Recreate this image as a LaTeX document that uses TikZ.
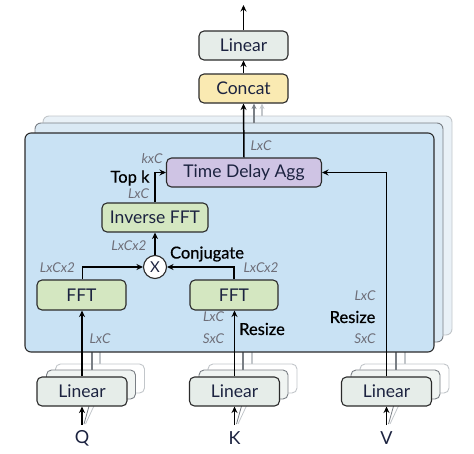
\documentclass[tikz,border=0pt]{standalone}
\usepackage{fontspec}
\setmainfont{Lato}
\newfontfamily\labfont{Lato}[FakeBold=0.6]
\usetikzlibrary{arrows.meta}
\definecolor{boxline}{HTML}{2B2B2B}
\definecolor{txt}{HTML}{1C2340}
\definecolor{dimc}{HTML}{6E6E78}
\definecolor{linfill}{HTML}{E6EDE9}
\definecolor{concatfill}{HTML}{FAEAB2}
\definecolor{panelfill}{HTML}{C9E2F4}
\definecolor{panelfillb}{HTML}{DAE9F4}
\definecolor{panelfillc}{HTML}{E9F1F7}
\definecolor{tdafill}{HTML}{CFC4E4}
\definecolor{fftfill}{HTML}{D4E7C1}
\definecolor{greyA}{HTML}{7A7F85}
\definecolor{greyB}{HTML}{C2C6CA}
\begin{document}
\begin{tikzpicture}[x=1pt,y=-1pt,
  box/.style={draw=boxline, line width=1.1pt, rounded corners=5pt, minimum width=89pt, minimum height=29pt, inner sep=0pt, font=\fontsize{17.5}{17.5}\selectfont, text=txt},
  ghostA/.style={draw=greyA, line width=0.9pt, rounded corners=5pt, fill=linfill!60, minimum width=89pt, minimum height=29pt, inner sep=0pt},
  ghostB/.style={draw=greyB, line width=0.9pt, rounded corners=5pt, fill=white, minimum width=89pt, minimum height=29pt, inner sep=0pt},
  dimlab/.style={font=\fontsize{13.5}{13.5}\selectfont\itshape, text=dimc, inner sep=0pt},
  lab/.style={font=\labfont\fontsize{16.5}{16.5}\selectfont, text=black, inner sep=0pt},
  inlab/.style={font=\fontsize{18}{18}\selectfont, text=txt, inner sep=0pt},
  arr/.style={line width=1.5pt, draw=black, -{Stealth[length=6.5pt,width=6pt]}},
  arrA/.style={line width=1.2pt, draw=greyA, -{Stealth[length=5.5pt,width=5pt]}},
  arrB/.style={line width=1.1pt, draw=greyB, -{Stealth[length=5.5pt,width=5pt]}},
  lineA/.style={line width=1.2pt, draw=greyA},
  lineB/.style={line width=1.1pt, draw=greyB},
]
\useasboundingbox (0,0) rectangle (474,453);

% back panels
\draw[draw=greyB, fill=panelfillc, line width=0.9pt, rounded corners=6pt] (43,116) rectangle (452,335);
\draw[draw=greyA, fill=panelfillb, line width=0.9pt, rounded corners=6pt] (35,123) rectangle (443,342);

% top boxes
\node[box, fill=linfill] (lintop) at (243.5,45.5) {Linear};
\node[box, fill=concatfill] (concat) at (243.5,88.5) {Concat};
\coordinate (out) at (243.5,5);

% ghost arrows into concat
\coordinate (pB) at (254,123);
\coordinate (pC) at (262,116);
\draw[arrA] (pB) -- (pB |- concat.south);
\draw[arrB] (pC) -- (pC |- concat.south);

% bottom linear stacks (ghosts)
\foreach \n/\x in {Q/82,K/234.5,V/386.5}{
  \node[ghostB] (g2\n) at (\x+18,378.5) {};
  \node[ghostA] (g1\n) at (\x+9,384.5) {};
  \coordinate (a\n) at (\x+2,424);
  \coordinate (b\n) at (\x+3.5,424);
  \draw[lineA, line width=0.8pt] (a\n) -- (\x+9,399);
  \draw[lineB, line width=0.8pt] (b\n) -- (\x+18,393);
}
% ghost lines from ghost linear boxes to back panels
\foreach \n/\x in {Q/92,K/243,V/396}{
  \draw[lineA] (\x,342) -- (\x,370);
}
\foreach \n/\x in {Q/100,K/252,V/405}{
  \draw[lineB] (\x,335) -- (\x,364);
}

% front panel
\draw[draw=boxline, fill=panelfill, line width=1.1pt, rounded corners=6pt] (25,133) rectangle (434,352);

% inner boxes
\node[box, fill=tdafill, minimum width=155pt] (tda) at (244,172.5) {Time Delay Agg};
\node[box, fill=fftfill, minimum width=106pt] (ifft) at (155,217.5) {Inverse FFT};
\node[draw=boxline, line width=1.1pt, fill=white, circle, minimum size=23pt, inner sep=0pt, font=\fontsize{15}{15}\selectfont, text=txt] (mul) at (155,267) {X};
\node[box, fill=fftfill, minimum height=30pt] (fftL) at (81.5,295) {FFT};
\node[box, fill=fftfill, minimum width=88pt, minimum height=30pt] (fftR) at (234,295) {FFT};

% front linear boxes
\node[box, fill=linfill, minimum width=90pt] (linQ) at (82,391.5) {Linear};
\node[box, fill=linfill, minimum width=90pt] (linK) at (234.5,391.5) {Linear};
\node[box, fill=linfill, minimum width=90pt] (linV) at (386.5,391.5) {Linear};

% inputs
\node[inlab] (Q) at (82,438) {Q};
\node[inlab] (K) at (234.5,438) {K};
\node[inlab] (V) at (386.5,438) {V};
\coordinate (qin) at (82,425);
\coordinate (kin) at (234.5,425);
\coordinate (vin) at (386.5,425);
\draw[arr] (qin) -- (linQ.south);
\draw[arr] (kin) -- (linK.south);
\draw[arr] (vin) -- (linV.south);

% main connectors
\draw[arr] (linQ.north) -- (linQ.north |- fftL.south);
\draw[arr] (linK.north) -- (linK.north |- fftR.south);
\draw[arr] ([xshift=1pt]fftL.north) |- (mul.west);
\draw[arr] (fftR.north) |- (mul.east);
\draw[arr] (mul.north) -- (mul.north |- ifft.south);
\draw[arr] (ifft.north) |- (tda.west);
\draw[arr] (linV.north) |- (tda.east);
\draw[arr] (tda.north) -- (concat.south);
\draw[arr] (concat.north) -- (lintop.south);
\draw[arr] (lintop.north) -- (out);

% labels
\node[dimlab] (l1) at (261,146) {LxC};
\node[dimlab] (l2) at (152,159) {kxC};
\node[lab] (topk) at (130,178) {Top k};
\node[dimlab] (l3) at (138.5,194) {LxC};
\node[dimlab] (l4) at (129,246) {LxCx2};
\node[lab] (conj) at (207,254) {Conjugate};
\node[dimlab] (l5) at (57.5,268) {LxCx2};
\node[dimlab] (l6) at (261,268) {LxCx2};
\node[dimlab] (l7) at (213.5,317) {LxC};
\node[lab] (rs1) at (262,329) {Resize};
\node[dimlab] (l8) at (213.5,339) {SxC};
\node[dimlab] (l9) at (100,339) {LxC};
\node[dimlab] (l10) at (365,296) {LxC};
\node[lab] (rs2) at (352.5,317) {Resize};
\node[dimlab] (l11) at (365,339) {SxC};
\end{tikzpicture}
\end{document}
